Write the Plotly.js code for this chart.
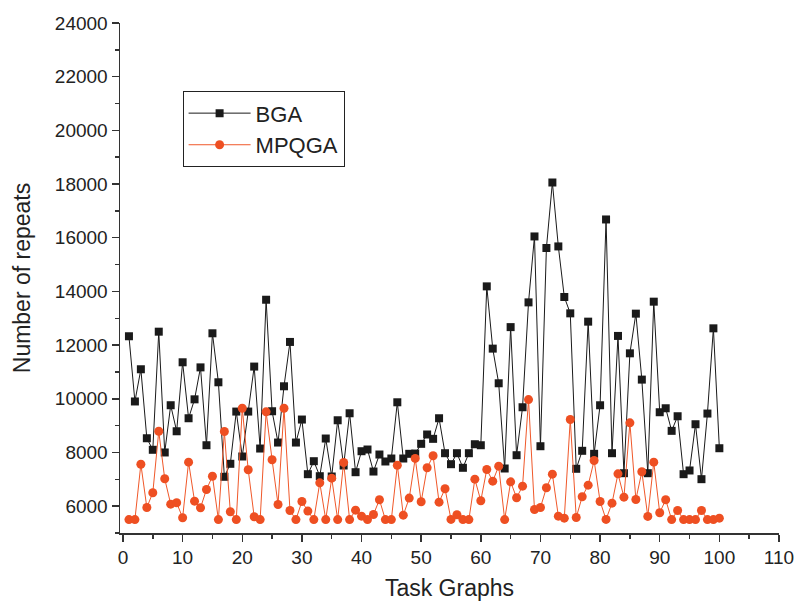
<!DOCTYPE html>
<html>
<head>
<meta charset="utf-8">
<script src="https://cdn.plot.ly/plotly-3.0.1.min.js"></script>
<style>html,body{margin:0;padding:0;background:#fff}#chart{width:795px;height:603px}</style>
</head>
<body>
<div id="chart"></div>
<script>
var taskGraphs = [];
for (var i = 1; i <= 100; i++) taskGraphs.push(i);

var bga = [12330, 9900, 11100, 8530, 8100, 12500, 8000, 9760, 8790, 11360,
           9275, 9980, 11170, 8270, 12440, 10615, 7094, 7578, 9524, 7850,
           9524, 11200, 8147, 13690, 9536, 8370, 10466, 12118, 8370, 9227,
           7191, 7675, 7116, 8520, 7105, 9200, 7515, 9461, 7265, 8047,
           8110, 7290, 7924, 7664, 7775, 9870, 7775, 7950, 7960, 8322,
           8670, 8508, 9275, 7973, 7563, 7973, 7429, 7973, 8307, 8270,
           14188, 11869, 10578, 7403, 12670, 7898, 9685, 13592, 16048, 8233,
           15617, 18058, 15676, 13793, 13183, 7392, 8062, 12874, 7950, 9759,
           16681, 7973, 12342, 7228, 11694, 13172, 10715, 7228, 13618, 9499,
           9647, 8806, 9350, 7191, 7329, 9052, 7005, 9450, 12625, 8158];

var mpqga = [5500, 5500, 7563, 5950, 6500, 8790, 7020, 6075, 6125, 5570,
             7640, 6185, 5940, 6620, 7115, 5500, 8780, 5790, 5500, 9647,
             7355, 5605, 5500, 9513, 7727, 6063, 9647, 5840, 5500, 6175,
             5815, 5500, 6870, 5500, 7042, 5500, 7626, 5500, 5851, 5628,
             5500, 5690, 6238, 5500, 5500, 7526, 5665, 6300, 7780, 6164,
             7429, 7876, 6150, 6648, 5505, 5680, 5500, 5500, 7005, 6201,
             7366, 6930, 7489, 5500, 6906, 6313, 6745, 9971, 5877, 5950,
             6684, 7191, 5628, 5553, 9227, 5579, 6350, 6782, 7700, 6175,
             5505, 6112, 7205, 6335, 9104, 6249, 7280, 5617, 7638, 5754,
             6238, 5500, 5840, 5500, 5500, 5500, 5840, 5500, 5500, 5553];

var xTicks = [0, 10, 20, 30, 40, 50, 60, 70, 80, 90, 100, 110];
var yTicks = [6000, 8000, 10000, 12000, 14000, 16000, 18000, 20000, 22000, 24000];

var font = 'Liberation Sans, Arial, sans-serif';

var traces = [
  {x: taskGraphs, y: bga, name: 'BGA', type: 'scatter', mode: 'lines+markers',
   line: {color: '#1a1a1a', width: 1},
   marker: {symbol: 'square', size: 8, color: '#1a1a1a'}},
  {x: taskGraphs, y: mpqga, name: 'MPQGA', type: 'scatter', mode: 'lines+markers',
   line: {color: '#f0582a', width: 1},
   marker: {symbol: 'circle', size: 9, color: '#ee4f22'}}
];

var axisCommon = {
  showgrid: false, zeroline: false, showline: true, linecolor: '#333', linewidth: 1.5,
  ticks: 'outside', ticklen: 7, tickwidth: 1.5, tickcolor: '#333',
  tickfont: {family: font, size: 19, color: '#222'}
};

var layout = {
  width: 795, height: 603,
  margin: {l: 120, r: 16, t: 23, b: 70},
  paper_bgcolor: '#fff', plot_bgcolor: '#fff',
  showlegend: true,
  legend: {x: 0.095, y: 0.866, xanchor: 'left', yanchor: 'top',
           bordercolor: '#222', borderwidth: 1, bgcolor: '#fff', itemwidth: 62,
           font: {family: font, size: 22, color: '#222'}, tracegroupgap: 0},
  xaxis: Object.assign({}, axisCommon, {
    range: [-0.5, 110], tickvals: xTicks, ticktext: xTicks.map(String),
    minor: {dtick: 5, tick0: 0, ticks: 'outside', ticklen: 4, tickwidth: 1.5, tickcolor: '#333'},
    title: {text: 'Task Graphs', standoff: 12, font: {family: font, size: 23, color: '#222'}}
  }),
  yaxis: Object.assign({}, axisCommon, {
    range: [5000, 24000], tickvals: yTicks, ticktext: yTicks.map(String),
    minor: {dtick: 1000, tick0: 0, ticks: 'outside', ticklen: 4, tickwidth: 1.5, tickcolor: '#333'},
    title: {text: 'Number of repeats', standoff: 18, font: {family: font, size: 23, color: '#222'}}
  })
};

Plotly.newPlot('chart', traces, layout, {displayModeBar: false, staticPlot: true});
</script>
</body>
</html>
